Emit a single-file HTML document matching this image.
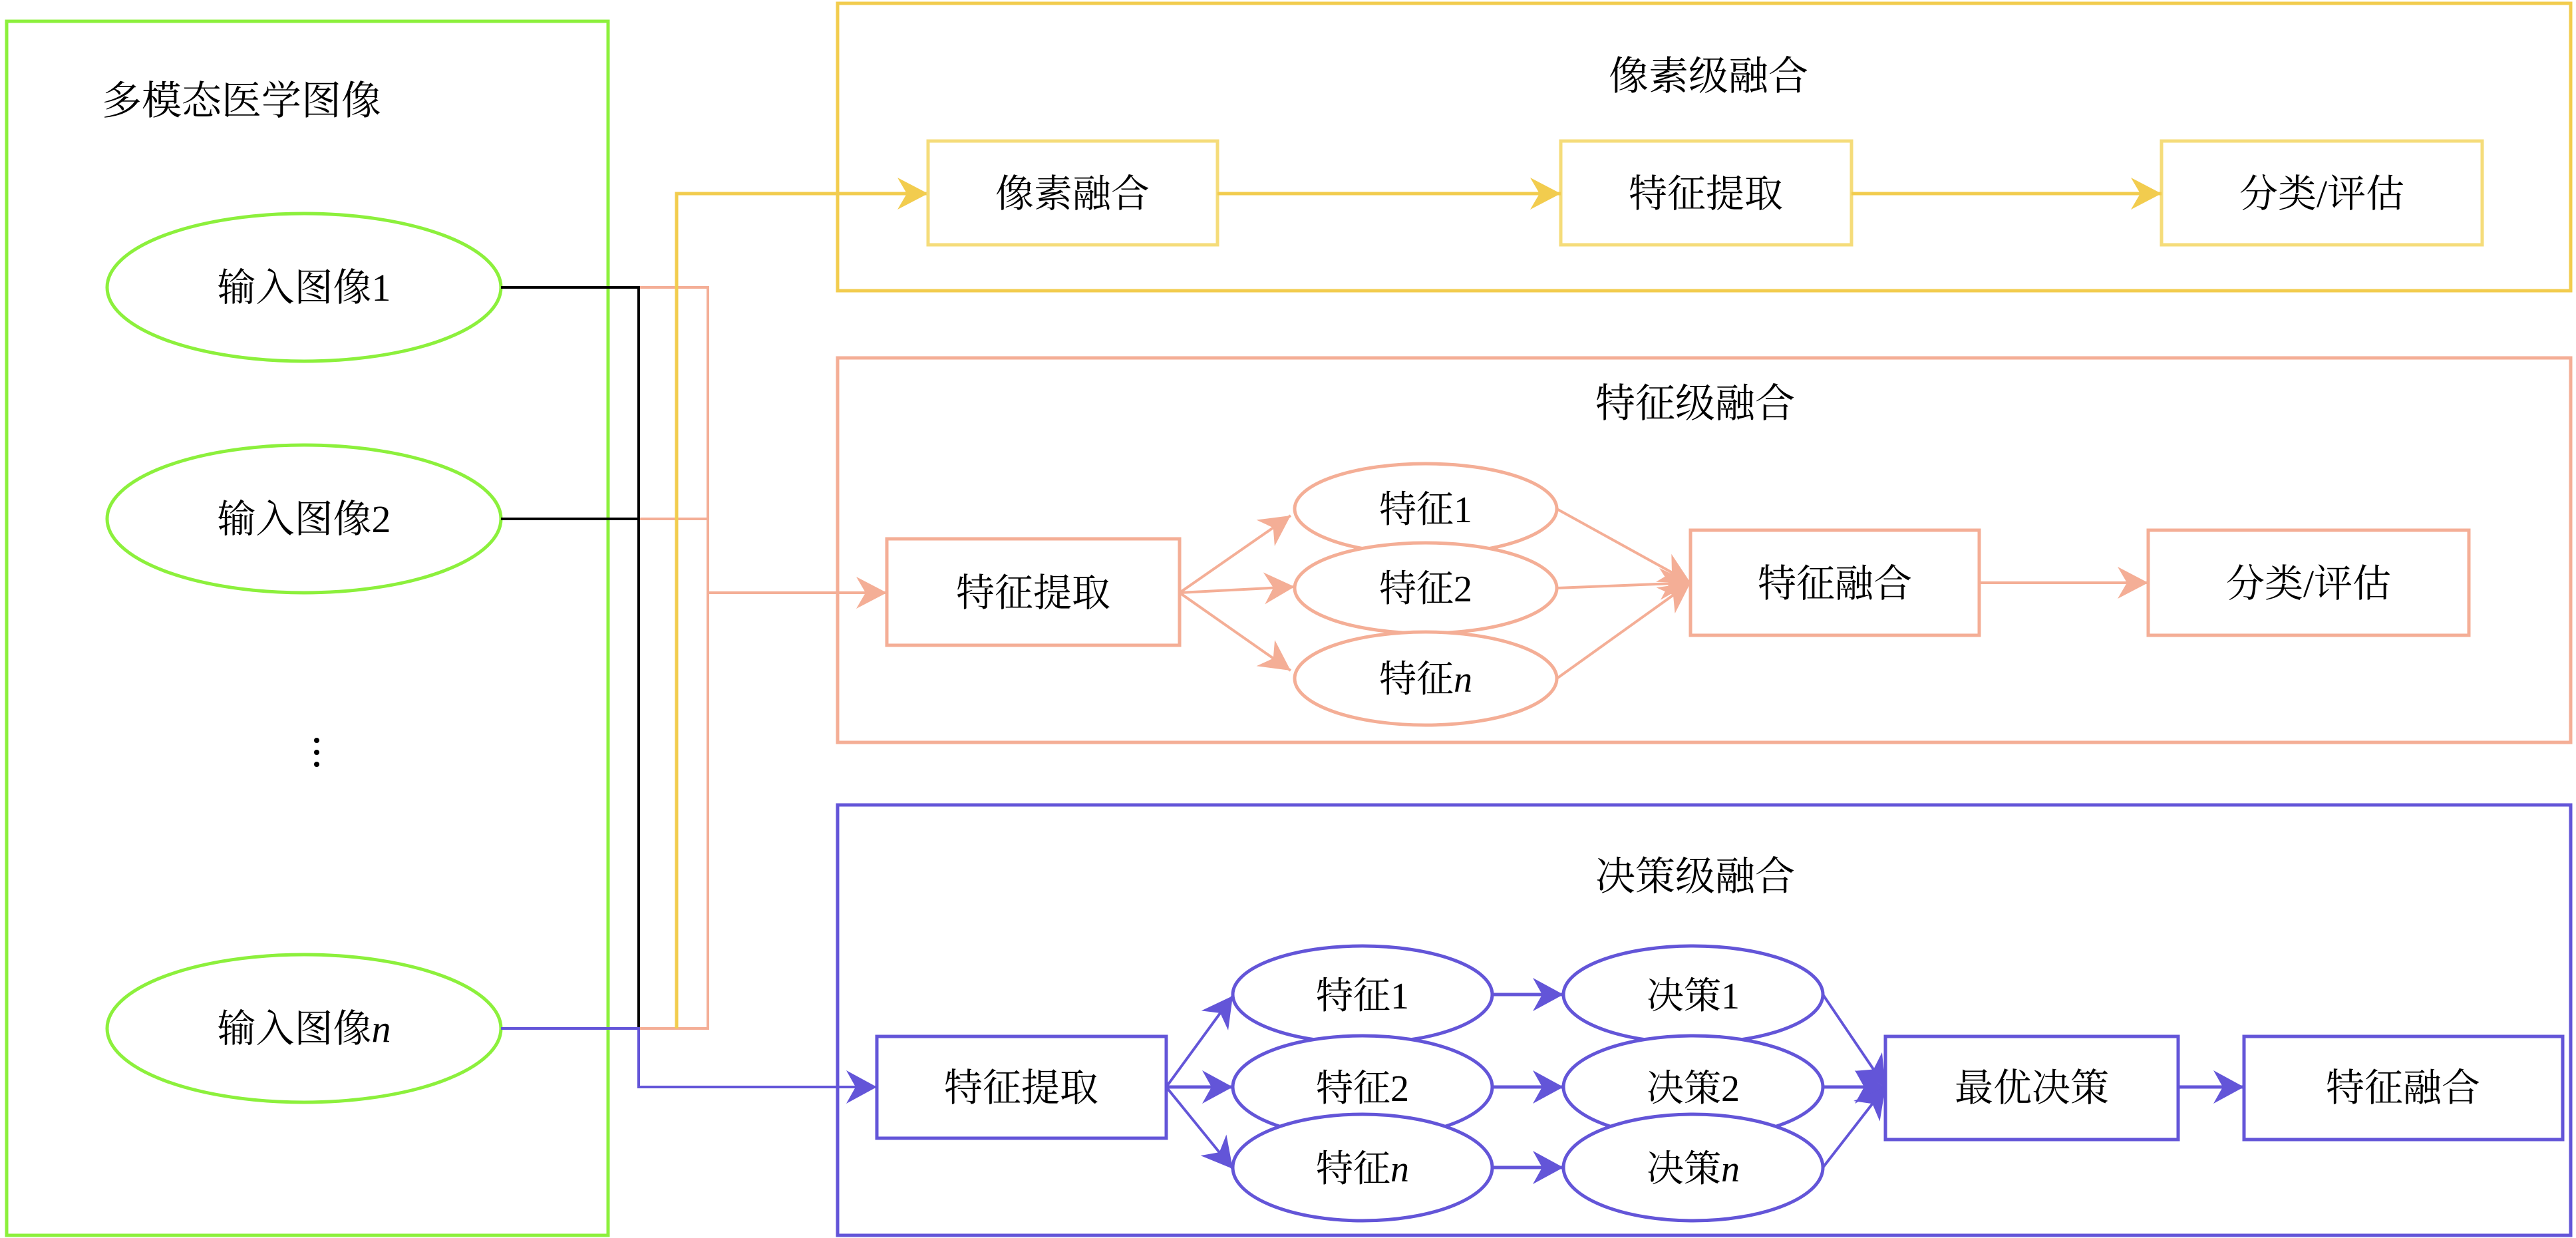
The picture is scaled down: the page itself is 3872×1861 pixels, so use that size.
<!DOCTYPE html>
<html><head><meta charset="utf-8">
<style>
html,body{margin:0;padding:0;background:#fff;}
svg{display:block;}
text{font-family:"Liberation Serif","Noto Serif CJK SC",serif;fill:#000;}
</style></head><body>
<svg width="3872" height="1861" viewBox="0 0 3872 1861" xmlns="http://www.w3.org/2000/svg">
<defs>
<marker id="ay" viewBox="-50 -26 52 52" refX="0" refY="0" markerWidth="52" markerHeight="52" markerUnits="userSpaceOnUse" orient="auto"><path d="M0,0 L-46,-24 L-32,0 L-46,24 Z" fill="#f2cc4e"/></marker>
<marker id="as" viewBox="-50 -26 52 52" refX="0" refY="0" markerWidth="52" markerHeight="52" markerUnits="userSpaceOnUse" orient="auto"><path d="M0,0 L-46,-24 L-32,0 L-46,24 Z" fill="#f4ae96"/></marker>
<marker id="ap" viewBox="-50 -26 52 52" refX="0" refY="0" markerWidth="52" markerHeight="52" markerUnits="userSpaceOnUse" orient="auto"><path d="M0,0 L-46,-25 L-32,0 L-46,25 Z" fill="#6355d8"/></marker>
</defs>

<!-- left green panel -->
<rect x="10" y="32" width="904" height="1825" fill="none" stroke="#8cf03c" stroke-width="5"/>
<text x="153" y="172" font-size="60">多模态医学图像</text>
<ellipse cx="457" cy="432" rx="296" ry="111" fill="none" stroke="#8cf03c" stroke-width="5"/>
<text x="457" y="452" font-size="58" text-anchor="middle">输入图像1</text>
<ellipse cx="457" cy="780" rx="296" ry="111" fill="none" stroke="#8cf03c" stroke-width="5"/>
<text x="457" y="800" font-size="58" text-anchor="middle">输入图像2</text>
<ellipse cx="457" cy="1546" rx="296" ry="111" fill="none" stroke="#8cf03c" stroke-width="5"/>
<text x="457" y="1566" font-size="58" text-anchor="middle">输入图像<tspan font-style="italic">n</tspan></text>
<circle cx="476" cy="1113" r="4"/><circle cx="476" cy="1131" r="4"/><circle cx="476" cy="1149" r="4"/>

<!-- connectors -->
<polyline points="960,432 1064,432 1064,1546 960,1546" fill="none" stroke="#f4ae96" stroke-width="4"/>
<line x1="960" y1="780" x2="1064" y2="780" stroke="#f4ae96" stroke-width="4"/>
<line x1="1064" y1="891" x2="1333" y2="891" stroke="#f4ae96" stroke-width="4" marker-end="url(#as)"/>
<polyline points="1017,1546 1017,291 1395,291" fill="none" stroke="#f2cc4e" stroke-width="5" marker-end="url(#ay)"/>
<polyline points="753,432 960,432 960,1546" fill="none" stroke="#000" stroke-width="4"/>
<line x1="753" y1="780" x2="960" y2="780" stroke="#000" stroke-width="4"/>
<polyline points="753,1546 960,1546 960,1634 1318,1634" fill="none" stroke="#6355d8" stroke-width="4" marker-end="url(#ap)"/>

<!-- pixel-level -->
<rect x="1259" y="5" width="2605" height="432" fill="none" stroke="#f2cc4e" stroke-width="5"/>
<text x="2568" y="135" font-size="60" text-anchor="middle">像素级融合</text>
<rect x="1395" y="212" width="435" height="156" fill="none" stroke="#f5dc7a" stroke-width="5"/>
<text x="1612" y="311" font-size="58" text-anchor="middle">像素融合</text>
<rect x="2346" y="212" width="437" height="156" fill="none" stroke="#f5dc7a" stroke-width="5"/>
<text x="2564" y="311" font-size="58" text-anchor="middle">特征提取</text>
<rect x="3249" y="212" width="482" height="156" fill="none" stroke="#f5dc7a" stroke-width="5"/>
<text x="3490" y="311" font-size="58" text-anchor="middle">分类/评估</text>
<line x1="1830" y1="291" x2="2346" y2="291" stroke="#f2cc4e" stroke-width="5" marker-end="url(#ay)"/>
<line x1="2783" y1="291" x2="3249" y2="291" stroke="#f2cc4e" stroke-width="5" marker-end="url(#ay)"/>

<!-- feature-level -->
<rect x="1259" y="538" width="2605" height="578" fill="none" stroke="#f4ae96" stroke-width="5"/>
<text x="2548" y="627" font-size="60" text-anchor="middle">特征级融合</text>
<rect x="1333" y="810" width="440" height="160" fill="none" stroke="#f4ae96" stroke-width="5"/>
<text x="1553" y="911" font-size="58" text-anchor="middle">特征提取</text>
<line x1="1773" y1="891" x2="1940" y2="775" stroke="#f4ae96" stroke-width="4" marker-end="url(#as)"/>
<line x1="1773" y1="891" x2="1946" y2="882" stroke="#f4ae96" stroke-width="4" marker-end="url(#as)"/>
<line x1="1773" y1="891" x2="1940" y2="1008" stroke="#f4ae96" stroke-width="4" marker-end="url(#as)"/>
<ellipse cx="2143" cy="765" rx="197" ry="68" fill="#fff" stroke="#f4ae96" stroke-width="5"/>
<text x="2143" y="785" font-size="56" text-anchor="middle">特征1</text>
<ellipse cx="2143" cy="884" rx="197" ry="68" fill="#fff" stroke="#f4ae96" stroke-width="5"/>
<text x="2143" y="904" font-size="56" text-anchor="middle">特征2</text>
<ellipse cx="2143" cy="1020" rx="197" ry="70" fill="#fff" stroke="#f4ae96" stroke-width="5"/>
<text x="2143" y="1040" font-size="56" text-anchor="middle">特征<tspan font-style="italic">n</tspan></text>
<line x1="2340" y1="765" x2="2541" y2="876" stroke="#f4ae96" stroke-width="4" marker-end="url(#as)"/>
<line x1="2340" y1="884" x2="2541" y2="876" stroke="#f4ae96" stroke-width="4" marker-end="url(#as)"/>
<line x1="2340" y1="1020" x2="2541" y2="876" stroke="#f4ae96" stroke-width="4" marker-end="url(#as)"/>
<rect x="2541" y="797" width="434" height="158" fill="none" stroke="#f4ae96" stroke-width="5"/>
<text x="2758" y="897" font-size="58" text-anchor="middle">特征融合</text>
<line x1="2975" y1="876" x2="3229" y2="876" stroke="#f4ae96" stroke-width="4" marker-end="url(#as)"/>
<rect x="3229" y="797" width="482" height="158" fill="none" stroke="#f4ae96" stroke-width="5"/>
<text x="3470" y="897" font-size="58" text-anchor="middle">分类/评估</text>

<!-- decision-level -->
<rect x="1259" y="1210" width="2605" height="647" fill="none" stroke="#6355d8" stroke-width="5"/>
<text x="2548" y="1338" font-size="60" text-anchor="middle">决策级融合</text>
<rect x="1318" y="1558" width="435" height="153" fill="none" stroke="#6355d8" stroke-width="5"/>
<text x="1535" y="1655" font-size="58" text-anchor="middle">特征提取</text>
<line x1="1753" y1="1634" x2="1853" y2="1497" stroke="#6355d8" stroke-width="4" marker-end="url(#ap)"/>
<line x1="1753" y1="1634" x2="1853" y2="1634" stroke="#6355d8" stroke-width="5" marker-end="url(#ap)"/>
<line x1="1753" y1="1634" x2="1853" y2="1757" stroke="#6355d8" stroke-width="4" marker-end="url(#ap)"/>
<ellipse cx="2048" cy="1495" rx="195" ry="73" fill="#fff" stroke="#6355d8" stroke-width="5"/>
<text x="2048" y="1516" font-size="56" text-anchor="middle">特征1</text>
<ellipse cx="2048" cy="1634" rx="195" ry="77" fill="#fff" stroke="#6355d8" stroke-width="5"/>
<text x="2048" y="1655" font-size="56" text-anchor="middle">特征2</text>
<ellipse cx="2048" cy="1755" rx="195" ry="80" fill="#fff" stroke="#6355d8" stroke-width="5"/>
<text x="2048" y="1776" font-size="56" text-anchor="middle">特征<tspan font-style="italic">n</tspan></text>
<line x1="2243" y1="1495" x2="2350" y2="1495" stroke="#6355d8" stroke-width="5" marker-end="url(#ap)"/>
<line x1="2243" y1="1634" x2="2350" y2="1634" stroke="#6355d8" stroke-width="5" marker-end="url(#ap)"/>
<line x1="2243" y1="1755" x2="2350" y2="1755" stroke="#6355d8" stroke-width="5" marker-end="url(#ap)"/>
<ellipse cx="2545" cy="1495" rx="195" ry="73" fill="#fff" stroke="#6355d8" stroke-width="5"/>
<text x="2545" y="1516" font-size="56" text-anchor="middle">决策1</text>
<ellipse cx="2545" cy="1634" rx="195" ry="77" fill="#fff" stroke="#6355d8" stroke-width="5"/>
<text x="2545" y="1655" font-size="56" text-anchor="middle">决策2</text>
<ellipse cx="2545" cy="1755" rx="195" ry="80" fill="#fff" stroke="#6355d8" stroke-width="5"/>
<text x="2545" y="1776" font-size="56" text-anchor="middle">决策<tspan font-style="italic">n</tspan></text>
<line x1="2740" y1="1495" x2="2834" y2="1634" stroke="#6355d8" stroke-width="4" marker-end="url(#ap)"/>
<line x1="2740" y1="1634" x2="2834" y2="1634" stroke="#6355d8" stroke-width="5" marker-end="url(#ap)"/>
<line x1="2740" y1="1755" x2="2834" y2="1634" stroke="#6355d8" stroke-width="4" marker-end="url(#ap)"/>
<rect x="2834" y="1558" width="440" height="155" fill="none" stroke="#6355d8" stroke-width="5"/>
<text x="3054" y="1655" font-size="58" text-anchor="middle">最优决策</text>
<line x1="3274" y1="1634" x2="3373" y2="1634" stroke="#6355d8" stroke-width="5" marker-end="url(#ap)"/>
<rect x="3373" y="1558" width="479" height="155" fill="none" stroke="#6355d8" stroke-width="5"/>
<text x="3612" y="1655" font-size="58" text-anchor="middle">特征融合</text>
</svg>
</body></html>
